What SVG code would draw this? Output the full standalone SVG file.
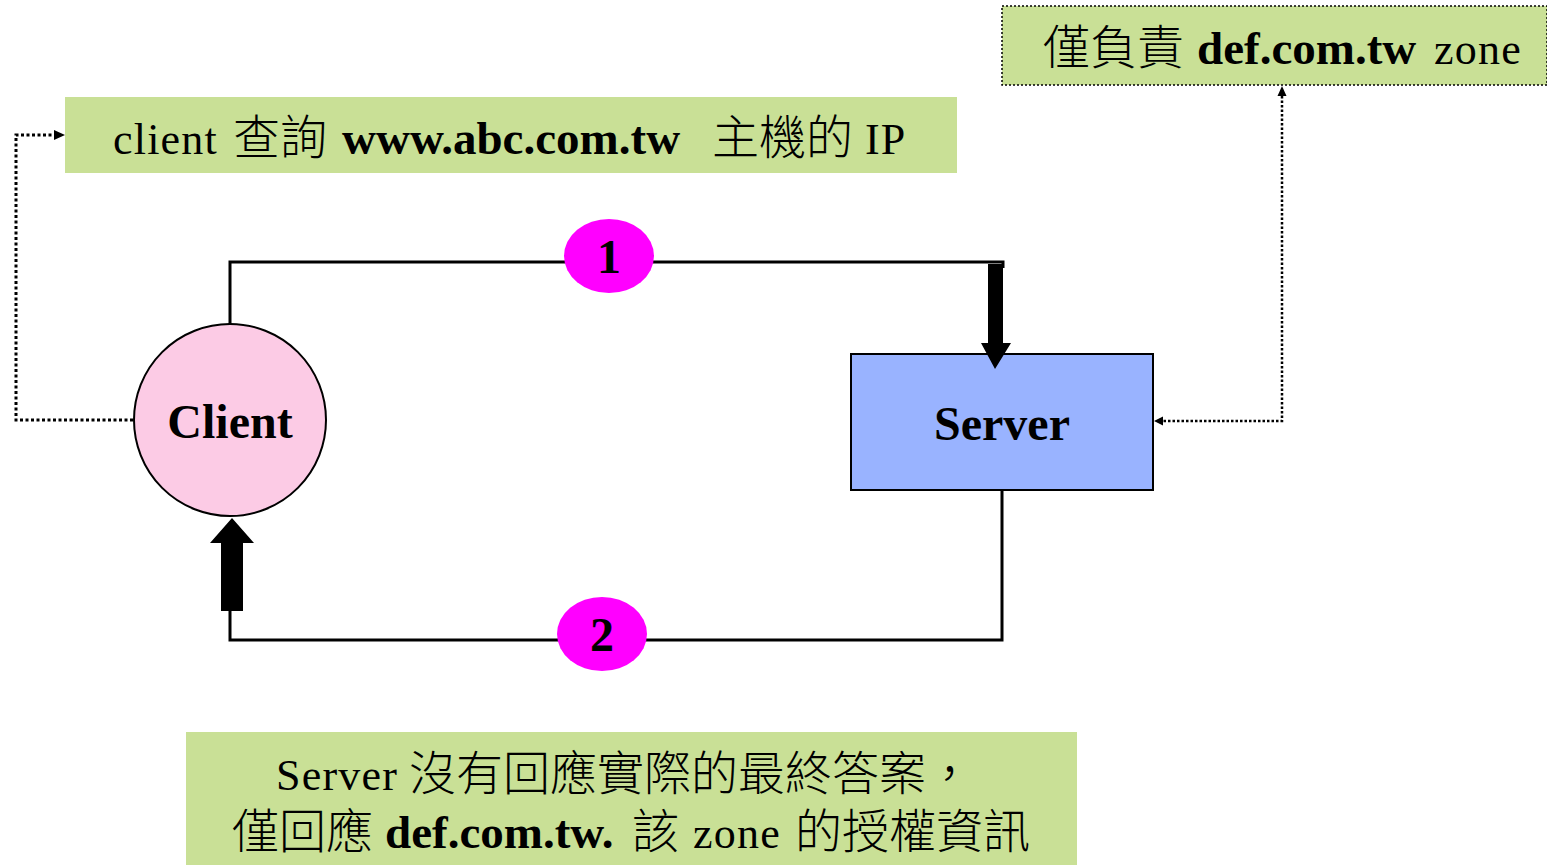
<svg xmlns="http://www.w3.org/2000/svg" width="1547" height="865" viewBox="0 0 1547 865">
  <style>
    .note { fill: #C9E096; }
    .lat { font-family: "Liberation Serif", "Times New Roman", serif; font-size: 44px; letter-spacing: 1.2px; fill: #000; }
    .b { font-weight: bold; font-size: 47px; letter-spacing: 0; }
    .big { font-size: 48px; }
    .cjk { font-family: "Noto Sans CJK TC", "Noto Sans CJK SC", sans-serif; font-weight: 300; font-size: 47px; fill: #000; }
    .line { fill: none; stroke: #000; stroke-width: 3; }
    .dot3 { fill: none; stroke: #000; stroke-width: 3; stroke-dasharray: 3 2.5; }
    .dot2 { fill: none; stroke: #000; stroke-width: 2.5; stroke-dasharray: 2.5 2; }
    .badge { fill: #FF00FF; }
  </style>
  <rect width="1547" height="865" fill="#fff"/>

  <!-- note: zone responsibility -->
  <g id="note-zone">
    <rect class="note" x="1002" y="6" width="545" height="79" stroke="#000" stroke-width="1.5" stroke-dasharray="2 2"/>
    <text class="cjk" x="1043" y="64">僅負責</text>
    <text class="lat b" x="1197" y="64">def.com.tw</text>
    <text class="lat" x="1434" y="64">zone</text>
  </g>

  <!-- note: query -->
  <g id="note-query">
    <rect class="note" x="65" y="97" width="892" height="76"/>
    <text class="lat" x="113" y="154">client</text>
    <text class="cjk" x="233" y="154">查詢</text>
    <text class="lat b" x="342" y="154">www.abc.com.tw</text>
    <text class="cjk" x="712" y="154">主機的</text>
    <text class="lat" x="865" y="154">IP</text>
  </g>

  <!-- client node -->
  <g id="client">
    <circle cx="230" cy="420" r="96" fill="#FCCBE5" stroke="#000" stroke-width="2"/>
    <text class="lat b big" x="230" y="438" text-anchor="middle">Client</text>
  </g>

  <!-- server node -->
  <g id="server">
    <rect x="851" y="354" width="302" height="136" fill="#99B3FF" stroke="#000" stroke-width="2"/>
    <text class="lat b big" x="1002" y="440" text-anchor="middle">Server</text>
  </g>

  <!-- note: referral answer -->
  <g id="note-referral">
    <rect class="note" x="186" y="732" width="891" height="133"/>
    <text class="lat" x="276" y="790">Server</text>
    <text class="cjk" x="409" y="790">沒有回應實際的最終答案，</text>
    <text class="cjk" x="232" y="848">僅回應</text>
    <text class="lat b" x="385" y="848">def.com.tw.</text>
    <text class="cjk" x="632" y="848">該</text>
    <text class="lat" x="693" y="848">zone</text>
    <text class="cjk" x="795" y="848">的授權資訊</text>
  </g>

  <!-- connectors (drawn over the nodes so arrowheads overlap their edges) -->
  <g id="connectors">
    <path class="line" d="M230,324 V262 H1003 V268"/>
    <path class="line" d="M1002,491 V640 H230 V605"/>
    <path d="M988,264 H1003 V343 H1011 L995,369 L981,343 H988 Z" fill="#000"/>
    <path d="M221,611 H243 V543 H254 L232,518 L210,543 H221 Z" fill="#000"/>
    <path class="dot3" d="M133,420 H16 V135 H56"/>
    <path d="M65,135 L54,130 L54,140 Z" fill="#000"/>
    <path class="dot2" d="M1282,96 V421 H1162"/>
    <path d="M1154,421 L1163,416.5 L1163,425.5 Z" fill="#000"/>
    <path d="M1282,86 L1277.5,96 L1286.5,96 Z" fill="#000"/>
  </g>

  <!-- step badges -->
  <g id="step-1">
    <ellipse class="badge" cx="609" cy="256" rx="45" ry="37"/>
    <text class="lat b big" x="609" y="273" text-anchor="middle">1</text>
  </g>
  <g id="step-2">
    <ellipse class="badge" cx="602" cy="634" rx="45" ry="37"/>
    <text class="lat b big" x="602" y="651" text-anchor="middle">2</text>
  </g>
</svg>
